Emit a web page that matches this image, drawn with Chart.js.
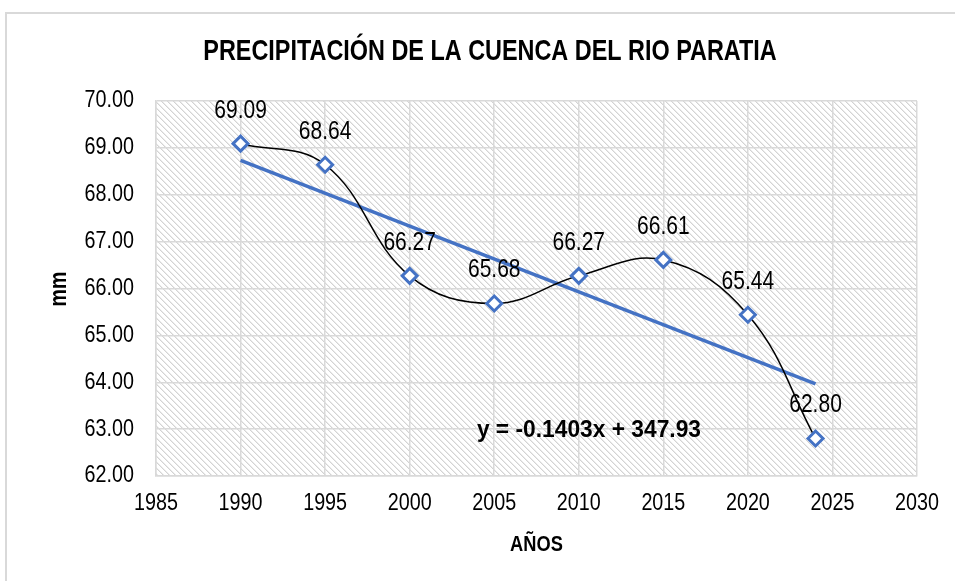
<!DOCTYPE html>
<html>
<head>
<meta charset="utf-8">
<script src="https://cdn.jsdelivr.net/npm/chart.js@4/dist/chart.umd.min.js"></script>
<style>
  html, body { margin: 0; padding: 0; background: #fff; }
  #wrap { position: relative; width: 955px; height: 581px; }
  #frame { position: absolute; left: 5px; top: 12px; width: 960px; height: 580px; border: 2px solid #d9d9d9; box-sizing: border-box; }
  canvas { position: absolute; left: 0; top: 0; }
</style>
</head>
<body>
<div id="wrap">
  <div id="frame"></div>
  <canvas id="chartCanvas" width="955" height="581"></canvas>
</div>
<script>
const years = [1990, 1995, 2000, 2005, 2010, 2015, 2020, 2024];
const precip = [69.09, 68.64, 66.27, 65.68, 66.27, 66.61, 65.44, 62.80];
const trendSlope = -0.1403;
const trendIntercept = 347.93;
const trendYears = [1990, 2024];
const titleText = 'PRECIPITACIÓN DE LA CUENCA DEL RIO PARATIA';
const xTitle = 'AÑOS';
const yTitle = 'mm';
const eqText = 'y = -0.1403x + 347.93';

const FONT = "'Liberation Sans Narrow', 'Arial Narrow', 'Liberation Sans', Arial, sans-serif";
const NARROW = 0.84; // no narrow face installed, squeeze the regular one

// draw text squeezed horizontally around (x, y)
function narrowText(ctx, text, x, y, font, align, sx) {
    ctx.save();
    ctx.font = font;
    ctx.textAlign = align;
    ctx.translate(x, y);
    ctx.scale(sx || NARROW, 1);
    ctx.fillText(text, 0, 0);
    ctx.restore();
}

// light diagonal hatch for the plot area
function makeHatch() {
    const c = document.createElement('canvas');
    c.width = 6; c.height = 6;
    const g = c.getContext('2d');
    g.fillStyle = '#ffffff';
    g.fillRect(0, 0, 6, 6);
    for (let i = 0; i < 6; i++) {
        g.fillStyle = '#d3d3d3';
        g.fillRect(i, i, 1, 1);
        g.fillStyle = '#ebebeb';
        g.fillRect((i + 1) % 6, i, 1, 1);
    }
    return g.createPattern(c, 'repeat');
}

const decor = {
    id: 'decor',
    beforeDraw(chart) {
        const {ctx, chartArea: a} = chart;
        ctx.save();
        ctx.fillStyle = makeHatch();
        ctx.fillRect(a.left, a.top, a.right - a.left, a.bottom - a.top);
        ctx.restore();
    },
    afterDraw(chart) {
        const {ctx, chartArea: a} = chart;
        const xs = chart.scales.x, ys = chart.scales.y;
        ctx.save();
        ctx.fillStyle = '#000';
        ctx.textBaseline = 'middle';
        narrowText(ctx, titleText, 490, 52, 'bold 30px ' + FONT, 'center', 0.78);
        narrowText(ctx, xTitle, (a.left + a.right) / 2, 545, 'bold 22px ' + FONT, 'center', 0.83);
        ctx.save();
        ctx.translate(60, 289);
        ctx.rotate(-Math.PI / 2);
        narrowText(ctx, yTitle, 0, 0, 'bold 23px ' + FONT, 'center', 0.85);
        ctx.restore();

        // tick labels
        xs.ticks.forEach(t => {
            narrowText(ctx, String(t.value), xs.getPixelForValue(t.value), 504, '23.5px ' + FONT, 'center');
        });
        ys.ticks.forEach(t => {
            narrowText(ctx, t.value.toFixed(2), 134, ys.getPixelForValue(t.value), '23.5px ' + FONT, 'right');
        });

        // data labels
        years.forEach((yr, i) => {
            const px = xs.getPixelForValue(yr);
            const py = ys.getPixelForValue(precip[i]);
            narrowText(ctx, precip[i].toFixed(2), px, py - 33, '25px ' + FONT, 'center');
        });

        // trend equation
        narrowText(ctx, eqText, xs.getPixelForValue(2010.6), ys.getPixelForValue(62.97), 'bold 23px ' + FONT, 'center', 0.99);
        ctx.restore();
    }
};

new Chart(document.getElementById('chartCanvas'), {
    type: 'scatter',
    data: {
        datasets: [{
            label: 'Trend',
            data: trendYears.map(x => ({x: x, y: trendSlope * x + trendIntercept})),
            showLine: true,
            borderColor: '#4472c4',
            borderWidth: 3.5,
            pointRadius: 0,
            fill: false,
            order: 2
        }, {
            label: 'Precipitación',
            data: years.map((x, i) => ({x: x, y: precip[i]})),
            showLine: true,
            borderColor: '#000000',
            borderWidth: 1.5,
            tension: 0.4,
            pointStyle: 'rectRot',
            pointRadius: 7.5,
            pointHoverRadius: 7.5,
            pointBackgroundColor: '#ffffff',
            pointBorderColor: '#4472c4',
            pointBorderWidth: 3,
            order: 1
        }]
    },
    options: {
        responsive: false,
        animation: false,
        layout: { padding: { left: 0, top: 101, right: 38, bottom: 0 } },
        plugins: { legend: { display: false }, tooltip: { enabled: false } },
        scales: {
            x: {
                type: 'linear',
                min: 1985, max: 2030,
                afterFit: s => { s.height = 105; },
                ticks: { stepSize: 5, display: false },
                grid: { color: '#d9d9d9', lineWidth: 1.5, drawTicks: false },
                border: { color: '#d9d9d9', width: 1.5 }
            },
            y: {
                min: 62, max: 70,
                afterFit: s => { s.width = 156; },
                ticks: { stepSize: 1, display: false },
                grid: { color: '#d9d9d9', lineWidth: 1.5, drawTicks: false },
                border: { color: '#d9d9d9', width: 1.5 }
            }
        }
    },
    plugins: [decor]
});
</script>
</body>
</html>
